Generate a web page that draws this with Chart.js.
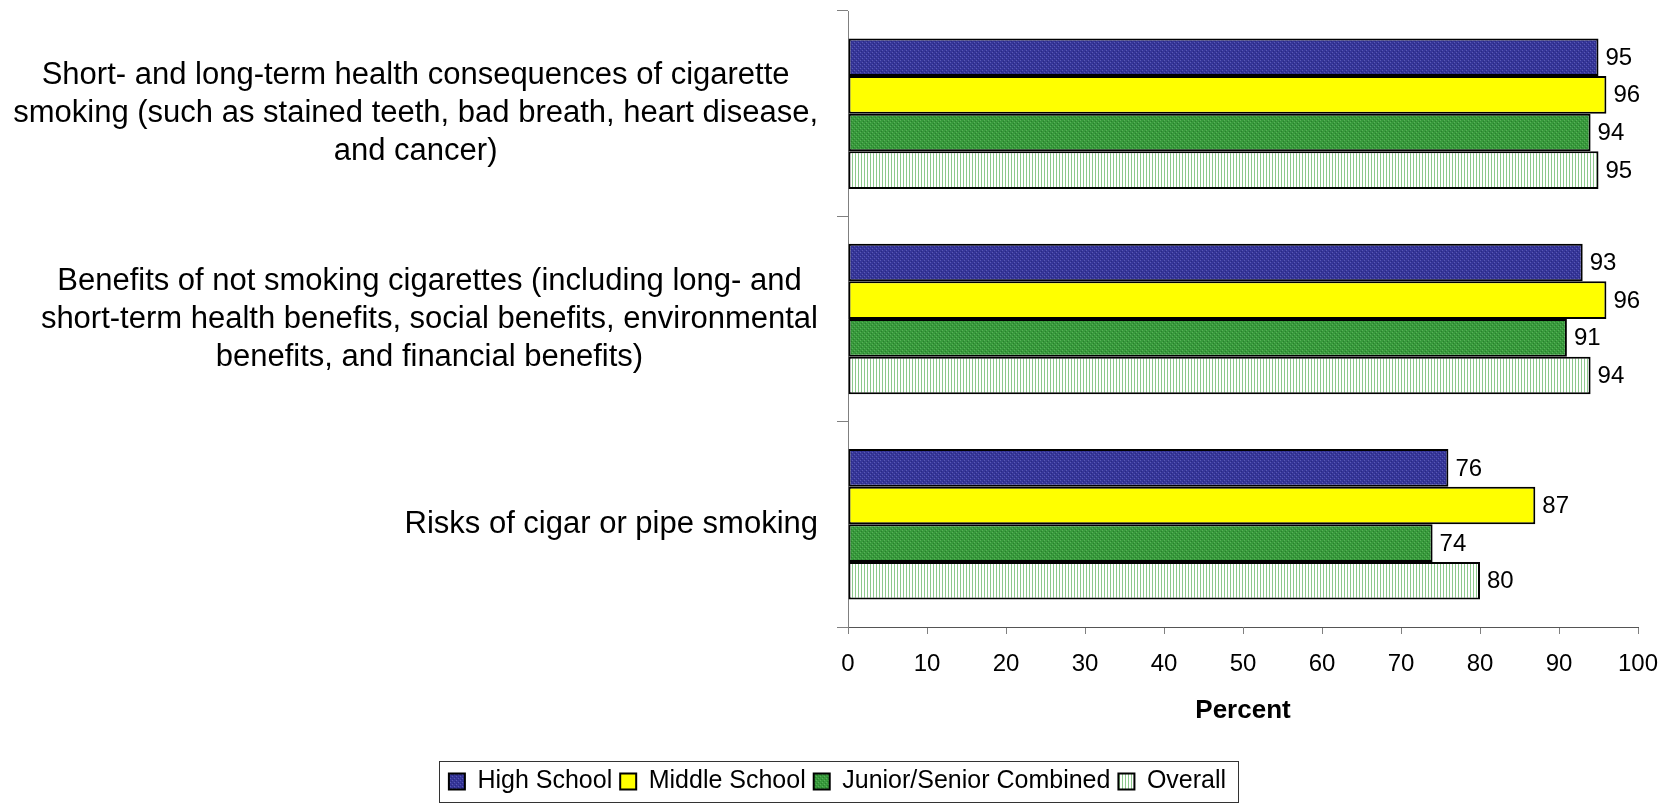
<!DOCTYPE html>
<html>
<head>
<meta charset="utf-8">
<script src="https://cdn.jsdelivr.net/npm/chart.js@4.4.0/dist/chart.umd.min.js"></script>
<style>
  html, body { margin: 0; padding: 0; background: #fff; }
</style>
</head>
<body>
<canvas id="chart" width="1675" height="804"></canvas>
<script>
// category labels, one array of lines per category
const categories = [
    ["Short- and long-term health consequences of cigarette", "smoking (such as stained teeth, bad breath, heart disease,", "and cancer)"],
    ["Benefits of not smoking cigarettes (including long- and", "short-term health benefits, social benefits, environmental", "benefits, and financial benefits)"],
    ["Risks of cigar or pipe smoking"]
]
const seriesNames = ["High School", "Middle School", "Junior/Senior Combined", "Overall"]
const highSchool = [95, 93, 76]
const middleSchool = [96, 96, 87]
const juniorSenior = [94, 91, 74]
const overall = [95, 94, 80]

const family = '"Liberation Sans", Arial, sans-serif'
Chart.defaults.font.family = family

function makePattern(size, base, pixels) {
    const c = document.createElement('canvas')
    c.width = size
    c.height = size
    const g = c.getContext('2d')
    g.fillStyle = base
    g.fillRect(0, 0, size, size)
    pixels.forEach(p => {
        g.fillStyle = p[2]
        g.fillRect(p[0], p[1], p[3] || 1, p[4] || 1)
    })
    return g.createPattern(c, 'repeat')
}

const bluePattern = makePattern(4, '#363699', [[0, 0, '#5a5ab4'], [2, 2, '#5a5ab4'], [1, 3, '#2a2a80'], [3, 1, '#2a2a80']])
const greenPattern = makePattern(4, '#389a3c', [[0, 0, '#58b058'], [2, 2, '#58b058'], [1, 3, '#2a7d2e'], [3, 1, '#2a7d2e']])
const stripePattern = makePattern(3, '#ffffff', [[0, 0, '#8cc98c', 1, 3]])

// value labels at the bar ends
const valueLabels = {
    id: 'valueLabels',
    afterDatasetsDraw(chart) {
        const ctx = chart.ctx
        ctx.save()
        ctx.font = '24px ' + family
        ctx.fillStyle = '#000'
        ctx.textAlign = 'left'
        ctx.textBaseline = 'middle'
        chart.data.datasets.forEach((ds, i) => {
            chart.getDatasetMeta(i).data.forEach((bar, j) => {
                ctx.fillText(ds.data[j], bar.x + 7, bar.y + 1)
            })
        })
        ctx.restore()
    }
}

// multi-line category labels: block right aligned, lines centred in the block
const categoryLabels = {
    id: 'categoryLabels',
    afterDraw(chart) {
        const ctx = chart.ctx
        const yScale = chart.scales.y
        ctx.save()
        ctx.font = '31px ' + family
        ctx.fillStyle = '#000'
        ctx.textAlign = 'center'
        ctx.textBaseline = 'middle'
        const right = chart.chartArea.left - 30
        categories.forEach((lines, i) => {
            const y = yScale.getPixelForValue(i)
            const w = Math.max(...lines.map(l => ctx.measureText(l).width))
            const cx = right - w / 2
            lines.forEach((line, k) => {
                ctx.fillText(line, cx, y + (k - (lines.length - 1) / 2) * 38)
            })
        })
        ctx.restore()
    }
}

// frame round the legend
const legendFrame = {
    id: 'legendFrame',
    afterDraw(chart) {
        const lg = chart.legend
        if (!lg || !lg.legendHitBoxes.length) return
        const hb = lg.legendHitBoxes
        const left = Math.min(...hb.map(h => h.left)) - 10
        const right = Math.max(...hb.map(h => h.left + h.width)) + 12
        const ctx = chart.ctx
        ctx.save()
        ctx.strokeStyle = '#333'
        ctx.lineWidth = 1
        ctx.strokeRect(Math.round(left) + 0.5, Math.round(lg.top) + 0.5, Math.round(right - left), Math.round(lg.bottom - lg.top) - 2)
        ctx.restore()
    }
}

const ctx = document.getElementById('chart').getContext('2d')
const chart = new Chart(ctx, {
    type: 'bar',
    data: {
        labels: categories.map(l => l.join(' ')),
        datasets: [
            { label: seriesNames[0], data: highSchool, backgroundColor: bluePattern },
            { label: seriesNames[1], data: middleSchool, backgroundColor: '#ffff00' },
            { label: seriesNames[2], data: juniorSenior, backgroundColor: greenPattern },
            { label: seriesNames[3], data: overall, backgroundColor: stripePattern }
        ]
    },
    options: {
        indexAxis: 'y',
        responsive: false,
        animation: false,
        events: [],
        datasets: {
            bar: {
                borderColor: '#000',
                borderWidth: 2,
                borderSkipped: false,
                categoryPercentage: 0.733,
                barPercentage: 1.0
            }
        },
        layout: {
            padding: { top: 11, right: 37, bottom: 0, left: 37 }
        },
        scales: {
            x: {
                min: 0,
                max: 100,
                ticks: {
                    stepSize: 10,
                    color: '#000',
                    font: { size: 24 },
                    padding: 16
                },
                grid: {
                    drawOnChartArea: false,
                    tickLength: 7,
                    color: '#808080'
                },
                border: { color: '#555' },
                title: {
                    display: true,
                    text: 'Percent',
                    color: '#000',
                    font: { size: 26, weight: 'bold' },
                    padding: { top: 0, bottom: 35 }
                },
                afterFit(scale) { scale.height = 134 }
            },
            y: {
                ticks: { display: false },
                grid: {
                    drawOnChartArea: false,
                    tickLength: 11,
                    color: '#808080',
                    offset: true
                },
                border: { color: '#808080' },
                afterFit(scale) { scale.width = 811 }
            }
        },
        plugins: {
            legend: {
                position: 'bottom',
                labels: {
                    boxWidth: 16,
                    boxHeight: 16,
                    padding: 8,
                    color: '#000',
                    font: { size: 25 }
                }
            },
            tooltip: { enabled: false }
        }
    },
    plugins: [valueLabels, categoryLabels, legendFrame]
})
</script>
</body>
</html>
